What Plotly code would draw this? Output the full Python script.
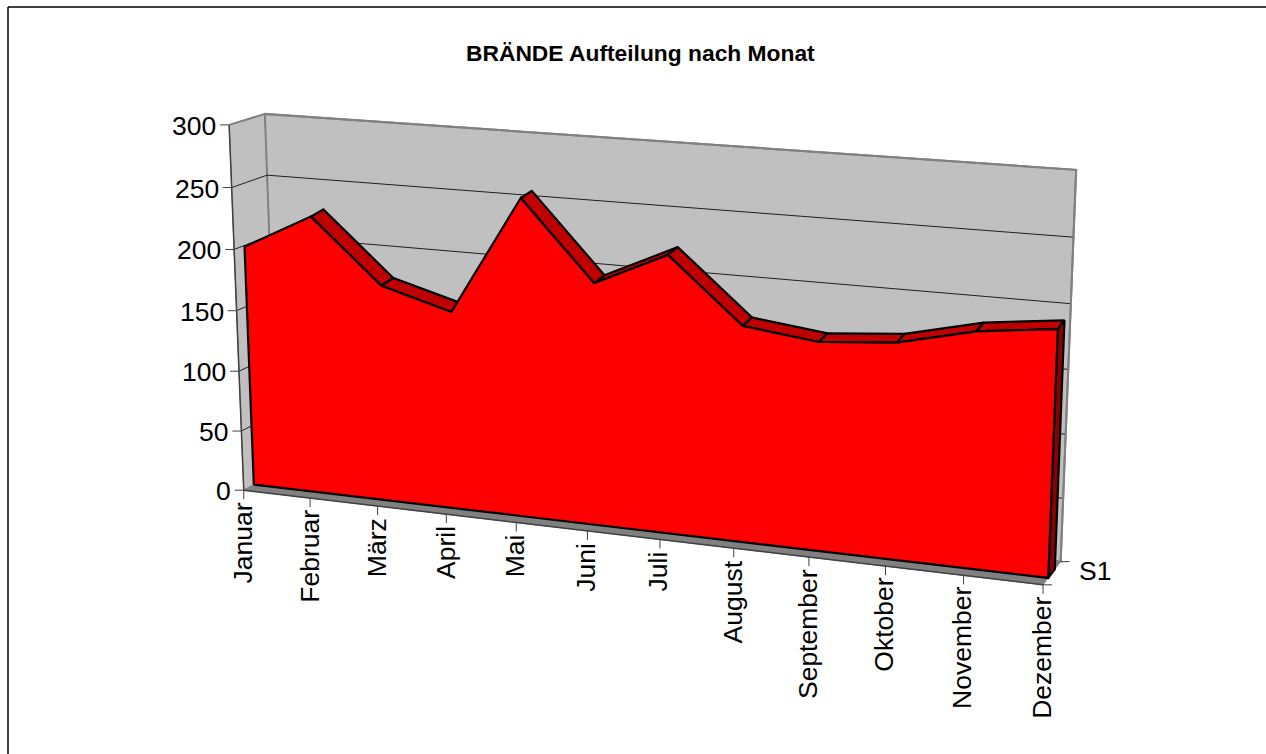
import numpy as np
import plotly.graph_objects as go

# ---- data ----
months = ["Januar", "Februar", "März", "April", "Mai", "Juni", "Juli", "August",
          "September", "Oktober", "November", "Dezember"]
fires = [199, 228, 177, 161, 256, 194, 221, 171, 164, 169, 183, 190]
y_ticks = [0, 50, 100, 150, 200, 250, 300]
series_name = "S1"
title_text = "BRÄNDE Aufteilung nach Monat"

# ---- oblique-view calibration: (month, value, depth) -> page pixel ----
N = len(months) - 1
YMAX = 300.0
Z_FRONT, Z_BACK = 0.29, 0.66
LIFT = 1.8  # the rear edge of the extruded band sits slightly higher in the view
month_px = [243.5, 309, 377, 446, 514, 587, 660, 735, 811, 886, 964, 1043]
calib = []
for i, px in enumerate(month_px):
    calib.append((i, 0, 0, px, 489 + (px - 243.5) * 97 / 799.5))
for v, px, py in [(50, 241.5, 430), (100, 239, 371), (150, 237, 311),
                  (200, 234.7, 250.5), (250, 232, 189), (300, 229.5, 127)]:
    calib.append((0, v, 0, px, py))
calib += [(0, 300, 1, 264, 114), (0, 250, 1, 267, 176), (0, 0, 1, 280, 478),
          (N, 300, 1, 1077, 170), (N, 250, 1, 1073, 236), (N, 200, 1, 1070, 303),
          (N, 0, 1, 1060, 559),
          (0, 0, Z_FRONT, 254, 483), (N, 0, Z_FRONT, 1047, 577),
          (4, 257, Z_FRONT, 520, 198), (4, 257, Z_BACK, 532, 191.5),
          (6, 222, Z_FRONT, 668, 255), (6, 222, Z_BACK, 678, 247.5),
          (N, 192, Z_FRONT, 1058, 328), (N, 192, Z_BACK, 1065, 321),
          (1, 226, Z_FRONT, 311, 216), (1, 226, Z_BACK, 323, 209)]

A = []
for X, Y, Z, u, v in calib:
    P = [X / N, Y / YMAX, Z, 1]
    A.append(P + [0, 0, 0, 0] + [-u * p for p in P])
    A.append([0, 0, 0, 0] + P + [-v * p for p in P])
M = np.linalg.svd(np.array(A, float))[2][-1].reshape(3, 4)


def proj(X, Y, Z):
    h = M @ np.array([X / N, Y / YMAX, Z, 1.0])
    return float(h[0] / h[2]), float(h[1] / h[2])


fig = go.Figure()


def poly(corners, fill=None, line="black", width=1, closed=True):
    pts = [proj(*c) for c in corners]
    if closed:
        pts.append(pts[0])
    fig.add_trace(go.Scatter(
        x=[p[0] for p in pts], y=[p[1] for p in pts], mode="lines",
        fill="toself" if fill else "none", fillcolor=fill,
        line=dict(color=line, width=width), hoverinfo="skip", showlegend=False))


def tick(base, dx, dy, color="#404040"):
    x, y = proj(*base)
    fig.add_trace(go.Scatter(x=[x, x + dx], y=[y, y + dy], mode="lines",
                             line=dict(color=color, width=1),
                             hoverinfo="skip", showlegend=False))
    return x, y


WALL, FLOOR, EDGE = "#C0C0C0", "#808080", "#808080"
TOP, SIDE, FRONT = "#C00000", "#8C0000", "#FF0000"

# walls and floor
poly([(0, 0, 0), (0, YMAX, 0), (0, YMAX, 1), (0, 0, 1)], WALL, EDGE, 1)
poly([(0, 0, 1), (0, YMAX, 1), (N, YMAX, 1), (N, 0, 1)], WALL, EDGE, 2)
poly([(0, 0, 0), (N, 0, 0), (N, 0, 1), (0, 0, 1)], FLOOR, EDGE, 1)

# gridlines along the side wall and the back wall
for v in y_ticks[1:-1]:
    poly([(0, v, 0), (0, v, 1), (N, v, 1)], None, "#202020", 1, closed=False)

# axis lines
poly([(0, 0, 0), (0, YMAX, 0)], None, "#404040", 1.5, closed=False)
poly([(0, 0, 0), (N, 0, 0)], None, "#404040", 1.5, closed=False)
poly([(0, YMAX, 0), (0, YMAX, 1), (N, YMAX, 1), (N, 0, 1)], None, EDGE, 2, closed=False)

# extruded area: top faces (steep rises face away from the viewer), right side, front face
for i in range(N):
    if fires[i + 1] - fires[i] > 28:
        continue
    poly([(i, fires[i], Z_FRONT), (i + 1, fires[i + 1], Z_FRONT),
          (i + 1, fires[i + 1] + LIFT, Z_BACK), (i, fires[i] + LIFT, Z_BACK)], TOP, "black", 2.2)
poly([(N, 0, Z_FRONT), (N, fires[N], Z_FRONT), (N, fires[N] + LIFT, Z_BACK), (N, 0, Z_BACK)],
     SIDE, "black", 2.2)
poly([(0, 0, Z_FRONT)] + [(i, fires[i], Z_FRONT) for i in range(N + 1)] + [(N, 0, Z_FRONT)],
     FRONT, "black", 2.2)

FONT = "Liberation Sans, Arial, sans-serif"
ann = []
for v in y_ticks:
    x, y = tick((0, v, 0), -9, 0)
    ann.append(dict(x=x - 11, y=y + 1, text=str(v), xanchor="right", yanchor="middle",
                    showarrow=False, font=dict(family=FONT, size=26.5, color="black")))
for i, name in enumerate(months):
    x, y = tick((i, 0, 0), 0, 9)
    ann.append(dict(x=x - 1, y=y + 10, text=name, textangle=-90, xanchor="center", yanchor="top",
                    showarrow=False, font=dict(family=FONT, size=26.5, color="black")))
tick((N, 0, 0), 9, 0)
x, y = tick((N, 0, 1), 9, 0)
ann.append(dict(x=x + 16, y=y + 9, text=series_name, xanchor="left", yanchor="middle",
                showarrow=False, font=dict(family=FONT, size=26.5, color="black")))
ann.append(dict(x=640, y=52.5, text="<b>" + title_text + "</b>", xanchor="center", yanchor="middle",
                showarrow=False, font=dict(family=FONT, size=22.8, color="black")))
for a in ann:
    a.update(xref="x", yref="y")

fig.update_layout(
    width=1266, height=754, margin=dict(l=0, r=0, t=0, b=0),
    paper_bgcolor="white", plot_bgcolor="white", showlegend=False,
    xaxis=dict(range=[0, 1266], visible=False, fixedrange=True),
    yaxis=dict(range=[754, 0], visible=False, fixedrange=True),
    annotations=ann,
    shapes=[dict(type="line", x0=8, y0=7, x1=1266, y1=7, line=dict(color="black", width=1.5)),
            dict(type="line", x0=8, y0=7, x1=8, y1=754, line=dict(color="black", width=1.5))],
)
fig.write_html("out.html", config={"displayModeBar": False, "responsive": False},
               post_script="document.body.style.margin='0';document.body.style.overflow='hidden';")
